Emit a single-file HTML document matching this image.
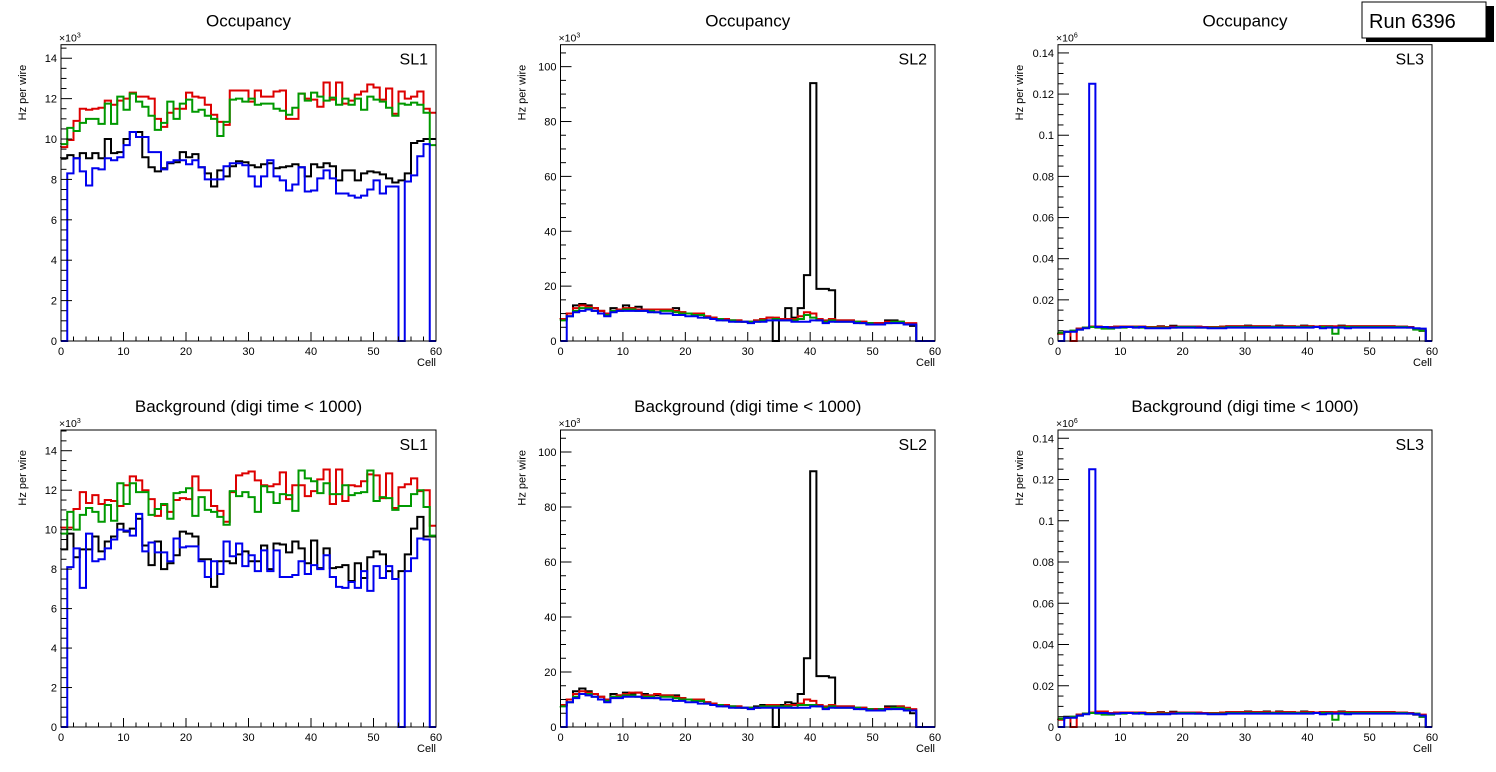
<!DOCTYPE html>
<html><head><meta charset="utf-8">
<style>
body{margin:0;background:#fff;width:1496px;height:772px;overflow:hidden;font-family:"Liberation Sans",sans-serif}
svg{position:absolute;left:0;top:0}
</style></head>
<body>
<svg id="chart" width="1496" height="772" xmlns="http://www.w3.org/2000/svg" font-family="Liberation Sans, sans-serif">
<g>
<rect x="1366" y="6" width="128" height="36" fill="#000"/>
<rect x="1362" y="2" width="124" height="36" fill="#fff" stroke="#000" stroke-width="1"/>
<text x="1369" y="28" font-size="20">Run 6396</text>
</g>
</svg>
<script>
// ---- data ----
const cells = 60;
// Panel 1: Occupancy SL1 (x10^3)
const occSL1Black=[9.05,9.2,9.05,9.3,9.05,9.3,9.05,10.0,9.3,9.35,10.0,10.35,10.35,9.1,8.6,8.4,8.55,8.8,8.85,9.35,9.1,9.25,8.6,8.3,7.65,8.45,8.15,8.65,8.9,8.85,8.7,8.6,8.75,8.8,8.55,8.6,8.65,8.75,8.6,8.15,8.75,8.6,8.8,8.65,7.95,8.45,8.45,7.95,8.3,8.4,8.35,8.25,8.05,7.85,7.95,8.3,9.8,9.9,10.0,10.0];
const occSL1Red=[9.6,9.95,10.9,11.5,11.45,11.5,11.55,11.9,11.7,11.9,12.0,12.3,12.1,12.1,12.0,11.0,10.6,11.3,11.5,11.5,12.3,12.1,12.05,11.7,11.2,10.85,10.7,12.4,12.4,12.4,11.85,12.4,12.1,12.1,12.35,12.4,11.0,11.0,12.25,12.0,11.95,11.6,12.8,11.95,12.8,11.75,11.9,12.2,12.35,12.7,12.55,11.95,12.5,11.25,12.35,12.0,12.1,12.35,11.5,11.3];
const occSL1Green=[9.75,10.55,10.4,10.8,11.0,11.0,10.75,11.75,10.75,12.1,11.45,12.25,11.85,11.6,11.15,10.45,10.8,11.85,11.0,11.75,11.95,11.35,11.45,11.15,11.0,10.15,10.85,11.95,12.0,11.85,12.0,11.7,11.75,11.75,11.5,11.4,11.2,11.55,12.25,11.9,12.3,12.1,11.9,12.05,11.7,12.0,11.7,12.0,11.45,12.1,11.95,11.85,11.55,11.15,11.75,11.7,11.8,11.7,11.3,9.7];
const occSL1Blue=[0,8.3,9.05,8.4,7.7,8.55,8.5,9.05,8.95,9.1,9.7,10.35,10.1,10.1,9.35,9.35,8.5,8.85,8.95,8.95,8.75,8.95,8.6,8.0,8.0,8.0,8.65,8.8,8.8,8.7,8.15,7.65,8.15,8.95,8.15,7.95,7.45,7.75,8.6,7.4,7.45,8.05,8.45,8.05,7.3,7.3,7.2,7.1,7.2,7.5,7.95,7.3,7.65,7.65,0,7.9,8.2,9.15,9.75,0];
// Panel 2: Occupancy SL2 (x10^3)
const occSL2Black=[8,10,13,13.5,13,12,11,10,12,11.5,13,12,12.5,11.5,11.5,11.5,11.5,11.5,12,10.5,10,10,9.5,8.5,8.5,8,8,7.5,7.5,7,7,7.5,8,8.5,0,8,12,8.5,12,24,94,19,19,18.5,7.5,7.5,7.5,7,7,6.5,6.5,6.5,7.5,7.5,7,6,5.5,0,0,0];
const occSL2Red=[8,10,12,13,12.5,12,11,10,11,11.5,12,12,11.5,11.5,11.5,11.5,11.5,11.5,11,10.5,10,10,10,9,8.5,8,8,7.5,7.5,7,7,7.5,8,8.5,8.5,8,8,8,9,10.5,10,8,7.5,8,7.5,7.5,7.5,7,7,6.5,6.5,6.5,7,7,7,6.5,6.5,0,0,0];
const occSL2Green=[7.5,9,11,12,12,11,10,9.5,11,11,11.5,11.5,11,11,11,10.5,11,11,10.5,10,10,9.5,9.5,8.5,8,8,7.5,7.5,7,7,7,7,7.5,7.5,8,7.5,7.5,7.5,8,9.5,8.5,7.5,7,7.5,7,7,7,7,6.5,6.5,6,6,6.5,7,7,6,6,0,0,0];
const occSL2Blue=[0,9,10.5,11,11.5,11,10,9,10.5,11,11,11,11,11,10.5,10.5,10,10,9.5,9.5,9,9,8.5,8.5,8,7.5,7.5,7,7,7,6.5,7,7,7.5,7.5,7.5,7.5,7,7,7,7.5,7.5,6.5,7,7,7,7,6.5,6.5,6,6,6,6.5,6.5,6.5,6,6,0,0,0];
// Panel 3: Occupancy SL3 (x10^6)
const occSL3Black=[0.004,0.0045,0.005,0.006,0.0065,0.007,0.007,0.0065,0.0065,0.007,0.007,0.007,0.007,0.007,0.0068,0.0068,0.0072,0.0068,0.0074,0.007,0.007,0.007,0.007,0.0068,0.0068,0.0068,0.007,0.0072,0.0072,0.0072,0.0075,0.0072,0.0072,0.0072,0.007,0.0075,0.0072,0.0072,0.007,0.0075,0.0072,0.007,0.0072,0.0072,0.007,0.0075,0.0072,0.0072,0.0072,0.0072,0.0072,0.0072,0.0072,0.0072,0.007,0.007,0.0068,0.006,0.005,0];
const occSL3Red=[0.0035,0.0045,0,0.006,0.0065,0.007,0.007,0.0068,0.0068,0.007,0.007,0.007,0.007,0.007,0.0068,0.0068,0.007,0.0068,0.007,0.007,0.007,0.007,0.007,0.0068,0.0068,0.0068,0.007,0.0072,0.0072,0.0072,0.0072,0.0072,0.0072,0.0072,0.007,0.0072,0.0072,0.0072,0.007,0.0072,0.0072,0.007,0.0072,0.0072,0.0072,0.0072,0.0072,0.0072,0.0072,0.0072,0.0072,0.0072,0.0072,0.0072,0.007,0.007,0.0068,0.006,0.005,0];
const occSL3Green=[0.004,0.0045,0.005,0.0055,0.0065,0.0068,0.0065,0.006,0.006,0.0065,0.0065,0.0068,0.0068,0.0065,0.0065,0.0065,0.0065,0.0065,0.0065,0.0068,0.0068,0.0068,0.0065,0.0065,0.0065,0.0065,0.0065,0.0068,0.0068,0.0068,0.0068,0.0068,0.0068,0.0068,0.0068,0.0068,0.0068,0.0068,0.0068,0.0068,0.0068,0.0068,0.0068,0.0068,0.0035,0.0068,0.0068,0.0068,0.0068,0.0068,0.0068,0.0068,0.0068,0.0068,0.0068,0.0068,0.0065,0.0055,0.005,0];
const occSL3Blue=[0,0.0045,0.0045,0.0055,0.0062,0.125,0.0068,0.0068,0.0065,0.0065,0.0068,0.0068,0.0065,0.0068,0.0062,0.0062,0.0062,0.0062,0.0065,0.0065,0.0065,0.0065,0.0065,0.0065,0.0062,0.0062,0.0062,0.0065,0.0065,0.0065,0.0065,0.0065,0.0065,0.0065,0.0065,0.0065,0.0065,0.0065,0.0065,0.0065,0.0065,0.0068,0.0062,0.0065,0.0065,0.0065,0.0062,0.0065,0.0065,0.0065,0.0065,0.0065,0.0065,0.0065,0.0065,0.0065,0.0065,0.0062,0.006,0];
// Panel 4: Background SL1 (x10^3)
const bkgSL1Black=[9.0,9.8,8.6,9.0,9.0,9.65,8.9,9.4,9.65,10.3,9.9,10.05,10.55,9.2,8.2,9.4,8.0,8.3,8.7,9.9,9.8,9.65,8.5,8.5,7.1,8.4,8.4,8.3,8.75,8.9,8.4,8.4,9.2,8.0,9.3,9.25,8.85,9.4,9.05,8.3,9.45,8.05,9.05,8.05,8.1,8.2,7.4,8.3,7.55,8.6,8.9,8.75,7.9,7.5,7.9,8.75,10.05,10.65,9.65,9.65];
const bkgSL1Red=[10.1,10.1,11.05,11.9,11.35,11.75,11.3,11.5,11.45,11.2,12.25,12.7,12.5,12.0,11.55,10.7,11.25,10.9,11.5,11.6,11.55,12.7,12.0,12.0,11.2,10.95,10.4,11.9,12.75,12.85,12.95,12.5,12.25,12.2,12.3,12.9,11.55,12.25,12.25,11.7,11.95,12.55,13.05,11.3,13.05,11.45,12.25,12.2,12.45,12.8,12.75,11.6,12.85,11.1,12.15,12.3,12.6,11.95,12.0,10.2];
const bkgSL1Green=[9.8,10.9,10.0,10.75,11.1,10.9,10.4,11.25,10.45,12.35,11.3,12.35,11.9,11.9,10.75,11.05,11.3,10.55,11.85,11.9,12.1,10.7,11.65,11.0,10.9,10.65,10.25,11.95,11.7,11.9,11.65,10.9,12.2,11.9,11.35,11.8,11.75,10.95,13.0,12.6,12.45,11.85,12.35,11.8,11.8,12.25,11.75,11.85,11.9,13.0,11.45,11.65,11.6,11.0,11.2,11.2,11.8,12.0,11.15,9.7];
const bkgSL1Blue=[0,8.1,9.05,7.05,9.8,8.4,8.5,9.05,9.5,10.0,9.95,9.7,10.8,8.9,9.35,8.85,8.85,8.4,9.55,9.1,9.15,9.15,8.4,7.6,8.4,7.75,9.4,8.65,9.3,8.15,8.7,7.9,8.95,7.9,8.95,7.6,7.6,7.7,8.4,7.75,8.2,8.0,8.7,7.6,7.1,7.05,7.35,7.05,7.9,6.9,8.15,7.55,8.15,7.5,0,7.9,8.55,9.55,9.5,0];
// Panel 5: Background SL2 (x10^3)
const bkgSL2Black=[8,10,13,14,13,12,11,10,12,11.5,12.5,12,12.5,12,11.5,11.5,11.5,11.5,11.5,10.5,10,10,9.5,9,8.5,8,8,7.5,7.5,7,7,7.5,8,8,0,8,9,8.5,12,25,93,18.5,18.5,18,7.5,7.5,7.5,7,7,6.5,6.5,6.5,7.5,7.5,7.5,6.5,5,0,0,0];
const bkgSL2Red=[8,10,12,13,12.5,12,11,10,11,11.5,12,12.5,12.5,11.5,11.5,12,11.5,11.5,11,10.5,10,10,10,9,8.5,8,8,7.5,7.5,7,7,7,7.5,8,8,7.5,8,8,8.5,10,9.5,8,7.5,8,7.5,7.5,7.5,7,7,6.5,6.5,6.5,7,7,7.5,7,6.5,0,0,0];
const bkgSL2Green=[7.5,9,11,12,12,11,10,9.5,11,11,11.5,11.5,11,11,11,10.5,11,11,10.5,10,10,9.5,9.5,8.5,8,8,7.5,7.5,7,7,7,7,7.5,7.5,7.5,7.5,7.5,7,8,8,8,7.5,7,7.5,7,7,7,7,6.5,6.5,6,6.5,6.5,7,7,6.5,6,0,0,0];
const bkgSL2Blue=[0,9,10.5,12,11.5,11,10,9,10.5,10.5,11,11,11,10.5,10.5,10.5,10,10,9.5,9.5,9,9,8.5,8.5,8,7.5,7.5,7,7,7,6.5,7,7,7,7,7,7,7,7,7,7.5,7.5,6.5,7,7,7,7,6.5,6.5,6,6,6,6.5,6.5,6.5,6,6,0,0,0];
// Panel 6: Background SL3 (x10^6)
const bkgSL3Black=[0.004,0.005,0.005,0.006,0.0065,0.007,0.007,0.0065,0.0065,0.007,0.007,0.007,0.007,0.007,0.0068,0.0068,0.0072,0.0068,0.0074,0.007,0.007,0.007,0.007,0.0068,0.0068,0.0068,0.007,0.0072,0.0072,0.0072,0.0075,0.0072,0.0072,0.0075,0.007,0.0075,0.0072,0.0072,0.007,0.0075,0.0072,0.007,0.0072,0.0072,0.007,0.0075,0.0072,0.0072,0.0072,0.0072,0.0072,0.0072,0.0072,0.0072,0.007,0.007,0.0068,0.006,0.005,0];
const bkgSL3Red=[0.0035,0.0045,0,0.006,0.0065,0.007,0.0075,0.0075,0.0068,0.007,0.007,0.007,0.007,0.007,0.0068,0.0068,0.007,0.0068,0.007,0.007,0.007,0.007,0.007,0.0068,0.0068,0.0068,0.007,0.0072,0.0072,0.0072,0.0072,0.0072,0.0072,0.0072,0.007,0.0072,0.0072,0.0072,0.007,0.0072,0.0072,0.007,0.0072,0.0072,0.0072,0.0072,0.0072,0.0072,0.0072,0.0072,0.0072,0.0072,0.0072,0.0072,0.007,0.007,0.0068,0.0065,0.006,0];
const bkgSL3Green=[0.004,0.0045,0.005,0.0055,0.0065,0.0068,0.0065,0.006,0.006,0.0065,0.0065,0.0068,0.0068,0.0065,0.0065,0.0065,0.0065,0.0065,0.0065,0.0068,0.0068,0.0068,0.0065,0.0065,0.0065,0.0065,0.0065,0.0068,0.0068,0.0068,0.0068,0.0068,0.0068,0.0068,0.0068,0.0068,0.0068,0.0068,0.0068,0.0068,0.0068,0.0068,0.0068,0.0068,0.0035,0.0068,0.0068,0.0068,0.0068,0.0068,0.0068,0.0068,0.0068,0.0068,0.0068,0.0068,0.0065,0.0065,0.005,0];
const bkgSL3Blue=[0,0.0045,0.0045,0.0055,0.0062,0.125,0.0068,0.0068,0.0065,0.0065,0.0068,0.0068,0.0065,0.0068,0.0062,0.0062,0.0062,0.0062,0.0065,0.0065,0.0065,0.0065,0.0065,0.0065,0.0062,0.0062,0.0062,0.0065,0.0065,0.0065,0.0065,0.0065,0.0065,0.0065,0.0065,0.0065,0.0065,0.0065,0.0065,0.0065,0.0065,0.0068,0.0062,0.0065,0.0065,0.0065,0.0062,0.0065,0.0065,0.0065,0.0065,0.0065,0.0065,0.0065,0.0065,0.0065,0.0065,0.0062,0.0055,0];
// tick labels
const xTickLabels=["0","10","20","30","40","50","60"];
const sl1TickLabels=["0","2","4","6","8","10","12","14"];
const sl2TickLabels=["0","20","40","60","80","100"];
const sl3TickLabels=["0","0.02","0.04","0.06","0.08","0.1","0.12","0.14"];

const panels=[
 {name:"occupancy-sl1",title:"Occupancy",sl:"SL1",x0:61,x1:436,y0:44.7,y1:341,ymax:14.67,major:2,minor:0.5,labels:sl1TickLabels,exp:"3",series:[occSL1Black,occSL1Red,occSL1Green,occSL1Blue]},
 {name:"occupancy-sl2",title:"Occupancy",sl:"SL2",x0:560.5,x1:935,y0:44.7,y1:341,ymax:108,major:20,minor:5,labels:sl2TickLabels,exp:"3",series:[occSL2Black,occSL2Red,occSL2Green,occSL2Blue]},
 {name:"occupancy-sl3",title:"Occupancy",sl:"SL3",x0:1058,x1:1432,y0:44.7,y1:341,ymax:0.144,major:0.02,minor:0.005,labels:sl3TickLabels,exp:"6",series:[occSL3Black,occSL3Red,occSL3Green,occSL3Blue]},
 {name:"background-sl1",title:"Background (digi time < 1000)",sl:"SL1",x0:61,x1:436,y0:430,y1:727,ymax:15.05,major:2,minor:0.5,labels:sl1TickLabels,exp:"3",series:[bkgSL1Black,bkgSL1Red,bkgSL1Green,bkgSL1Blue]},
 {name:"background-sl2",title:"Background (digi time < 1000)",sl:"SL2",x0:560.5,x1:935,y0:430,y1:727,ymax:108,major:20,minor:5,labels:sl2TickLabels,exp:"3",series:[bkgSL2Black,bkgSL2Red,bkgSL2Green,bkgSL2Blue]},
 {name:"background-sl3",title:"Background (digi time < 1000)",sl:"SL3",x0:1058,x1:1432,y0:430,y1:727,ymax:0.144,major:0.02,minor:0.005,labels:sl3TickLabels,exp:"6",series:[bkgSL3Black,bkgSL3Red,bkgSL3Green,bkgSL3Blue]}
];
const colors=["#000000","#dd0000","#009900","#0000ee"];
const seriesNames=["black-series","red-series","green-series","blue-series"];
const NS="http://www.w3.org/2000/svg";
const svg=document.getElementById("chart");
function mk(tag,attrs,parent){const e=document.createElementNS(NS,tag);for(const k in attrs)e.setAttribute(k,attrs[k]);parent.appendChild(e);return e;}

panels.forEach(p=>{
 const g=mk("g",{},svg);
 
 
 const xs=v=>p.x0+(p.x1-p.x0)*v/cells;
 const ys=v=>p.y1-(p.y1-p.y0)*Math.min(v,p.ymax)/p.ymax;
 const t=mk("text",{x:(p.x0+p.x1)/2,y:p.y0-18,"font-size":17,"text-anchor":"middle"},g);
 t.textContent=p.title;
 
 
 p.series.forEach((arr,si)=>{
  let d="M"+xs(0)+","+ys(arr[0]);
  for(let i=0;i<arr.length;i++){
   d+=" V"+ys(arr[i]).toFixed(2)+" H"+xs(i+1).toFixed(2);
  }
  const path=mk("path",{d:d,fill:"none",stroke:colors[si],"stroke-width":2},g);
  
  
 });
 const fr=mk("rect",{x:p.x0,y:p.y0,width:p.x1-p.x0,height:p.y1-p.y0,fill:"none",stroke:"#000","stroke-width":1},g);
 
 
 for(let v=0;v<=60;v+=2){
  const len=(v%10===0)?9:4.5;
  mk("line",{x1:xs(v),x2:xs(v),y1:p.y1,y2:p.y1-len,stroke:"#000","stroke-width":1},g);
 }
 xTickLabels.forEach((lab,i)=>{
  const xl=mk("text",{x:xs(Number(lab)),y:p.y1+14,"font-size":11,"text-anchor":"middle"},g);
  xl.textContent=lab;
  
  
 });
 const cl=mk("text",{x:p.x1,y:p.y1+25,"font-size":11,"text-anchor":"end"},g);
 cl.textContent="Cell";
 
 
 const nMinor=Math.floor(p.ymax/p.minor+1e-6);
 for(let k=0;k<=nMinor;k++){
  const v=k*p.minor;
  const isMaj=Math.abs(v/p.major-Math.round(v/p.major))<1e-6;
  mk("line",{x1:p.x0,x2:p.x0+(isMaj?11:5.5),y1:ys(v),y2:ys(v),stroke:"#000","stroke-width":1},g);
 }
 p.labels.forEach(lab=>{
  const yl=mk("text",{x:p.x0-4,y:ys(Number(lab))+4,"font-size":11,"text-anchor":"end"},g);
  yl.textContent=lab;
  
  
 });
 const ex=mk("text",{x:p.x0-2,y:p.y0-3,"font-size":10.5},g);
 ex.innerHTML='×10<tspan dy="-4" font-size="7">'+p.exp+'</tspan>';
 
 
 const yt=mk("text",{x:0,y:0,"font-size":11,"text-anchor":"end",transform:"translate("+(p.x0-35)+","+(p.y0+20)+") rotate(-90)"},g);
 yt.textContent="Hz per wire";
 
 
 const sl=mk("text",{x:p.x1-8,y:p.y0+20,"font-size":16,"text-anchor":"end"},g);
 sl.textContent=p.sl;
 
 
});
</script>
</body></html>
